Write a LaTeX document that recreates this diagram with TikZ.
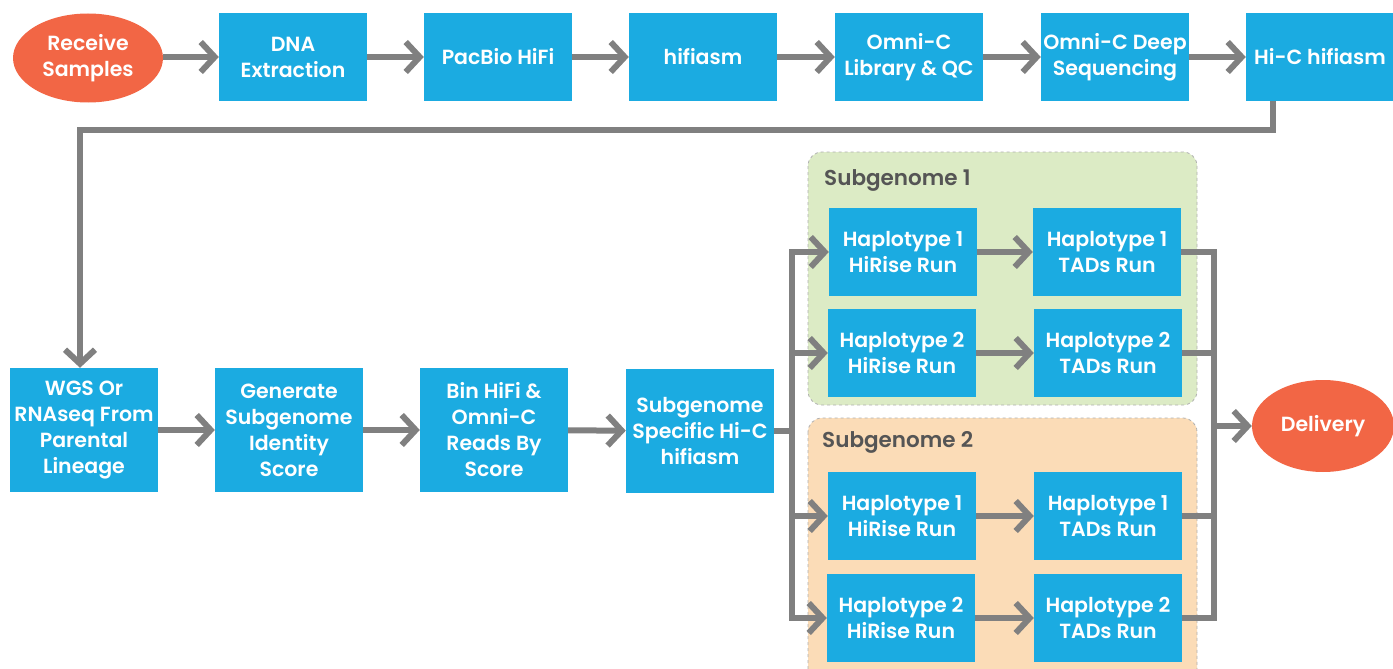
\documentclass[tikz,border=0pt]{standalone}
\usepackage{fontspec}
\setmainfont{Poppins SemiBold}
\usetikzlibrary{arrows.meta,shapes.geometric,calc}
\definecolor{boxblue}{HTML}{1BABE1}
\definecolor{ovalred}{HTML}{F26645}
\definecolor{lgray}{HTML}{808080}
\definecolor{gfill}{HTML}{DCEBC5}
\definecolor{pfill}{HTML}{FBDCB7}
\definecolor{gborder}{HTML}{B0B0B0}
\definecolor{ttl}{HTML}{555555}
\begin{document}
\begin{tikzpicture}[x=1pt,y=-1pt,
  stepbox/.style={rectangle,fill=boxblue,text=white,minimum width=148pt,minimum height=88pt,inner sep=0pt,align=center,font=\fontsize{20.5}{26}\selectfont},
  tallbox/.style={stepbox,minimum height=124pt},
  oval/.style={ellipse,fill=ovalred,text=white,inner sep=0pt,align=center,font=\fontsize{20.5}{26}\selectfont},
  conn/.style={draw=lgray,line width=6pt},
  arr/.style={conn,-{Straight Barb[length=14pt,width=30pt]}},
  group/.style={draw=gborder,dashed,line width=0.8pt,rounded corners=14pt},
  gtitle/.style={anchor=west,text=ttl,font=\fontsize{21.5}{24}\selectfont,inner sep=0pt}]
\useasboundingbox (0,0) rectangle (1393,669);
\begin{scope}
\clip (0,0) rectangle (1393,669);
\draw[group,fill=gfill] (808,152) rectangle (1197,405);
\draw[group,fill=pfill] (808,418) rectangle (1197,690);
\end{scope}
\node[gtitle] (g1t) at (824,180) {Subgenome 1};
\node[gtitle] (g2t) at (822,442) {Subgenome 2};
% top row
\node[oval,minimum width=150pt,minimum height=89pt] (rs) at (88,58) {Receive\\Samples};
\node[stepbox] (dna) at (293,57) {DNA\\Extraction};
\node[stepbox] (pac) at (498,57) {PacBio HiFi};
\node[stepbox] (hifi) at (703,57) {hifiasm};
\node[stepbox] (omni) at (909,57) {Omni-C\\Library \& QC};
\node[stepbox] (deep) at (1115,57) {Omni-C Deep\\Sequencing};
\node[stepbox] (hic) at (1320,57) {Hi-C hifiasm};
\draw[arr] (rs.east |- dna.west) -- (dna.west);
\draw[arr] (dna) -- (pac);
\draw[arr] (pac) -- (hifi);
\draw[arr] (hifi) -- (omni);
\draw[arr] (omni) -- (deep);
\draw[arr] (deep) -- (hic);
% bottom row
\node[tallbox] (wgs) at (84,430) {WGS Or\\RNAseq From\\Parental\\Lineage};
\node[tallbox] (gen) at (289,430) {Generate\\Subgenome\\Identity\\Score};
\node[tallbox] (bin) at (494,430) {Bin HiFi \&\\Omni-C\\Reads By\\Score};
\node[tallbox] (spec) at (700,431) {Subgenome\\Specific Hi-C\\hifiasm};
\coordinate (t1) at (1273,130);
\coordinate (t2) at (80,130);
\draw[conn,line join=miter] (hic.south -| t1) -- (t1) -- (t2) -- ($(wgs.north -| t2)+(0,-20)$);
\draw[arr] ($(wgs.north -| t2)+(0,-22)$) -- (wgs.north -| t2);
\draw[arr] (wgs) -- (gen);
\draw[arr] (gen) -- (bin);
\draw[arr] (bin) -- (spec);
% subgenome boxes
\node[stepbox] (h11) at (903,252) {Haplotype 1\\HiRise Run};
\node[stepbox] (t11) at (1107,252) {Haplotype 1\\TADs Run};
\node[stepbox] (h12) at (902,353) {Haplotype 2\\HiRise Run};
\node[stepbox] (t12) at (1108,353) {Haplotype 2\\TADs Run};
\node[stepbox] (h21) at (902,516) {Haplotype 1\\HiRise Run};
\node[stepbox] (t21) at (1108,516) {Haplotype 1\\TADs Run};
\node[stepbox] (h22) at (901,618) {Haplotype 2\\HiRise Run};
\node[stepbox] (t22) at (1108,618) {Haplotype 2\\TADs Run};
\draw[arr] (h11) -- (t11);
\draw[arr] (h12) -- (t12);
\draw[arr] (h21) -- (t21);
\draw[arr] (h22) -- (t22);
% splitter
\coordinate (sx) at (792,0);
\draw[conn] (spec.east) -- (spec.east -| sx);
\draw[conn] ($(sx |- h11)+(0,-3)$) -- ($(sx |- h22)+(0,3)$);
\draw[arr] (sx |- h11) -- (h11.west);
\draw[arr] (sx |- h12) -- (h12.west);
\draw[arr] (sx |- h21) -- (h21.west);
\draw[arr] (sx |- h22) -- (h22.west);
% merge
\node[oval,minimum width=142pt,minimum height=92pt] (del) at (1323,426) {Delivery};
\coordinate (mx) at (1214,0);
\draw[conn] (t11.east) -- (t11.east -| mx);
\draw[conn] (t12.east) -- (t12.east -| mx);
\draw[conn] (t21.east) -- (t21.east -| mx);
\draw[conn] (t22.east) -- (t22.east -| mx);
\draw[conn] ($(mx |- t11)+(0,-3)$) -- ($(mx |- t22)+(0,3)$);
\draw[arr] (del.west -| mx) -- (del.west);
\end{tikzpicture}
\end{document}
